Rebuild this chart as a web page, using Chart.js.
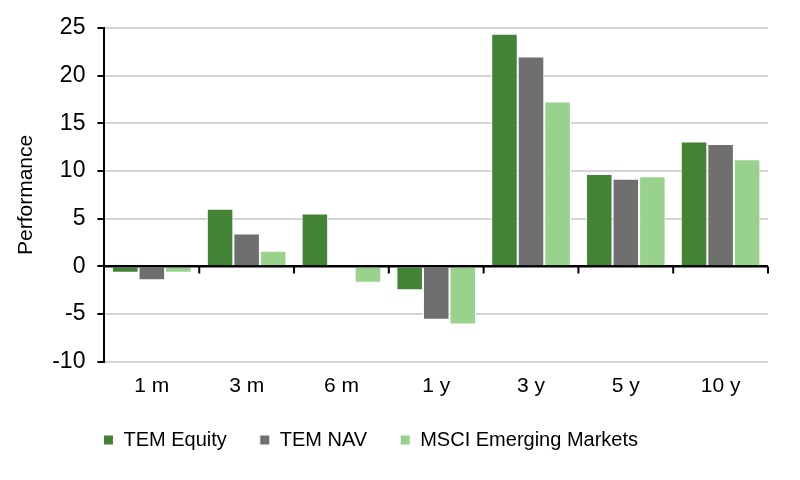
<!DOCTYPE html>
<html>
<head>
<meta charset="utf-8">
<script src="https://cdn.jsdelivr.net/npm/chart.js@4/dist/chart.umd.min.js"></script>
<style>
  html, body { margin: 0; padding: 0; background: #fff; }
  #wrap { width: 800px; height: 480px; }
</style>
</head>
<body>
<div id="wrap"><canvas id="grafico"></canvas></div>
<script>
// dados do gráfico
var periodos = ['1 m', '3 m', '6 m', '1 y', '3 y', '5 y', '10 y'];
var temEquity = [-0.65, 6.05, 5.55, -2.5, 24.4, 9.7, 13.1];
var temNav = [-1.45, 3.45, 0, -5.6, 22.0, 9.2, 12.85];
var msciEM = [-0.65, 1.65, -1.7, -6.1, 17.3, 9.45, 11.25];
var ticksY = [-10, -5, 0, 5, 10, 15, 20, 25];

var fonte = "'Liberation Sans', Arial, sans-serif";

// linha do zero por cima das barras + tracinhos entre categorias
var linhaZero = {
  id: 'linhaZero',
  afterDatasetsDraw: function (chart) {
    var ctx = chart.ctx;
    var x = chart.scales.x;
    var y = chart.scales.y;
    var y0 = y.getPixelForValue(0);
    ctx.save();
    ctx.strokeStyle = '#000';
    ctx.lineWidth = 2;
    ctx.beginPath();
    ctx.moveTo(chart.chartArea.left, y0);
    ctx.lineTo(chart.chartArea.right, y0);
    for (var i = 1; i <= periodos.length; i++) {
      var xb = x.getPixelForValue(i - 0.5);
      ctx.moveTo(xb, y0);
      ctx.lineTo(xb, y0 + 7);
    }
    ctx.stroke();
    ctx.restore();
  }
};

// empurra a legenda para a posição do original
var posLegenda = {
  id: 'posLegenda',
  afterLayout: function (chart) {
    var leg = chart.legend;
    var w = leg.right - leg.left;
    leg.left = chart.chartArea.left - 1 - leg.options.labels.padding;
    leg.right = leg.left + w;
    leg.top -= 6;
    leg.bottom -= 6;
  }
};

var dados = {
  labels: periodos,
  datasets: [
    { label: 'TEM Equity', data: temEquity, backgroundColor: '#428335' },
    { label: 'TEM NAV', data: temNav, backgroundColor: '#6f6f6f' },
    { label: 'MSCI Emerging Markets', data: msciEM, backgroundColor: '#98d28c' }
  ]
};

dados.datasets.forEach(function (d) {
  d.borderColor = '#ffffff';
  d.borderWidth = 1;
  d.categoryPercentage = 0.84;
  d.barPercentage = 1.0;
});

var config = {
  type: 'bar',
  data: dados,
  options: {
    responsive: true,
    maintainAspectRatio: false,
    animation: false,
    layout: { padding: { left: 14, right: 32, top: 28, bottom: 14 } },
    plugins: {
      tooltip: { enabled: false },
      legend: {
        position: 'bottom',
        align: 'start',
        labels: {
          boxWidth: 10,
          boxHeight: 10,
          padding: 33,
          color: '#000',
          font: { family: fonte, size: 20 }
        }
      }
    },
    scales: {
      x: {
        grid: { display: false },
        border: { display: false },
        ticks: { color: '#000', font: { family: fonte, size: 21 }, padding: 4 }
      },
      y: {
        min: -10,
        max: 25,
        afterBuildTicks: function (scale) {
          scale.ticks = ticksY.map(function (v) { return { value: v }; });
        },
        border: { display: true, color: '#000', width: 2 },
        grid: {
          color: function (c) { return c.tick && c.tick.value === 0 ? '#000' : '#d4d4d4'; },
          lineWidth: 2,
          tickColor: '#000',
          tickLength: 7
        },
        ticks: { color: '#000', font: { family: fonte, size: 23 }, padding: 12 },
        title: {
          display: true,
          text: 'Performance',
          color: '#000',
          font: { family: fonte, size: 21 },
          padding: { top: 0, bottom: 1 }
        }
      }
    }
  },
  plugins: [linhaZero, posLegenda]
};

var grafico = new Chart(document.getElementById('grafico'), config);
</script>
</body>
</html>
